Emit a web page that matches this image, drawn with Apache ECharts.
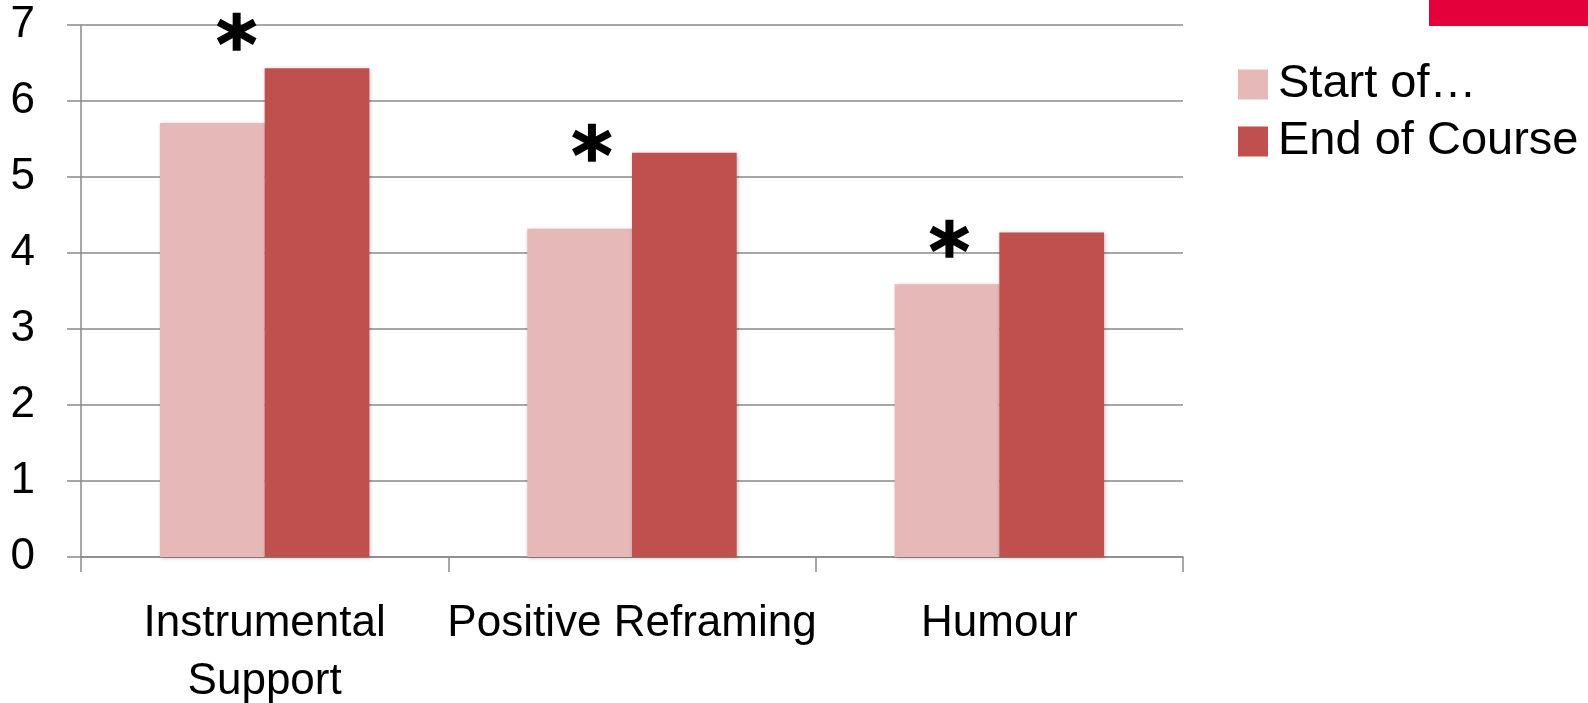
<!DOCTYPE html>
<html>
<head>
<meta charset="utf-8">
<script src="https://cdn.jsdelivr.net/npm/echarts@6/dist/echarts.min.js"></script>
<style>
  html, body { margin: 0; padding: 0; background: #fff; }
  #chart { width: 1588px; height: 703px; }
</style>
</head>
<body>
<div id="chart"></div>
<script>
// data
var categories = ['Instrumental\nSupport', 'Positive Reframing', 'Humour'];
var seriesNames = ['Start of Course', 'End of Course'];
var legendLabels = ['Start of…', 'End of Course'];
var startValues = [5.71, 4.32, 3.59];
var endValues = [6.43, 5.32, 4.27];
var starLevels = [6.88, 5.42, 4.16];   // where the * marks sit
var yTicks = [0, 1, 2, 3, 4, 5, 6, 7];

var chart = echarts.init(document.getElementById('chart'));

var fontFam = '"Liberation Sans", Arial, sans-serif';
var gridColor = '#8a8a8a';
var starShift = [-28, -40, -50];

var option = {
  animation: false,
  textStyle: { fontFamily: fontFam },
  grid: { left: 81, right: 405, top: 25, bottom: 146, containLabel: false, outerBoundsMode: 'none' },
  legend: {
    left: 1233,
    top: 56,
    orient: 'vertical',
    itemWidth: 30,
    itemHeight: 30,
    itemGap: 10,
    icon: 'rect',
    data: seriesNames,
    formatter: function (name) { return legendLabels[seriesNames.indexOf(name)]; },
    textStyle: { fontSize: 47, color: '#000', fontFamily: fontFam, padding: [0, 0, 0, 5] }
  },
  xAxis: {
    type: 'category',
    data: categories,
    axisLine: { lineStyle: { color: gridColor, width: 1.5 } },
    axisTick: { show: true, length: 15, lineStyle: { color: gridColor, width: 1.5 } },
    axisLabel: { color: '#000', fontSize: 44, lineHeight: 58, margin: 38, interval: 0, fontFamily: fontFam }
  },
  yAxis: {
    type: 'value',
    min: yTicks[0],
    max: yTicks[yTicks.length - 1],
    interval: 1,
    axisLine: { show: true, lineStyle: { color: gridColor, width: 1.5 } },
    axisTick: { show: true, length: 14, lineStyle: { color: gridColor, width: 1.5 } },
    splitLine: { lineStyle: { color: gridColor, width: 1.5 } },
    axisLabel: { color: '#000', fontSize: 44, margin: 46, fontFamily: fontFam }
  },
  graphic: [
    { type: 'rect', right: 0, top: 0, shape: { width: 159, height: 26 }, style: { fill: '#e4003a' } }
  ],
  series: [
    {
      name: seriesNames[0],
      type: 'bar',
      data: startValues,
      barGap: '0%',
      barCategoryGap: '43%',
      itemStyle: { color: '#e6b9b8', shadowBlur: 4, shadowColor: 'rgba(0,0,0,0.25)', shadowOffsetX: 1, shadowOffsetY: 1 }
    },
    {
      name: seriesNames[1],
      type: 'bar',
      data: endValues,
      itemStyle: { color: '#c0504d', shadowBlur: 4, shadowColor: 'rgba(0,0,0,0.25)', shadowOffsetX: 1, shadowOffsetY: 1 }
    },
    {
      name: 'stars',
      type: 'scatter',
      symbolSize: 1,
      itemStyle: { color: 'rgba(0,0,0,0)' },
      silent: true,
      z: 5,
      data: starLevels.map(function (v, i) {
        return {
          value: [i, v],
          label: {
            show: true,
            formatter: '*',
            position: 'inside',
            offset: [starShift[i], 18],
            color: '#000',
            opacity: 1,
            fontSize: 78,
            fontWeight: 'bold',
            textBorderColor: '#000',
            textBorderWidth: 1.5,
            fontFamily: '"DejaVu Sans", sans-serif'
          }
        };
      })
    }
  ]
};

chart.setOption(option);
</script>
</body>
</html>
